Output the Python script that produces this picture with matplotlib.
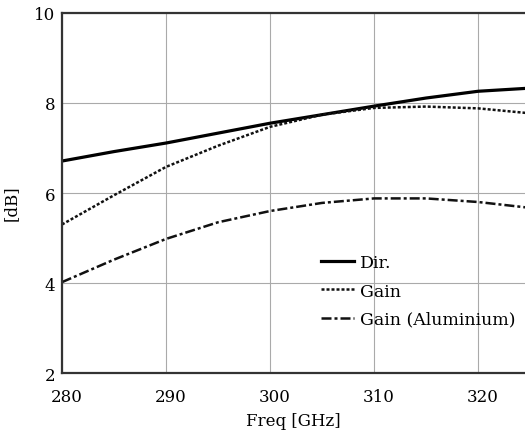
import matplotlib.pyplot as plt
import matplotlib.transforms as mtransforms

# Frequency points [GHz] and curves [dB]
freq = [280, 285, 290, 295, 300, 305, 310, 315, 320, 325]
directivity = [6.71, 6.92, 7.11, 7.33, 7.55, 7.74, 7.93, 8.11, 8.26, 8.33]
gain = [5.30, 5.95, 6.58, 7.05, 7.47, 7.74, 7.89, 7.92, 7.88, 7.77]
gain_alu = [4.02, 4.52, 4.98, 5.35, 5.60, 5.78, 5.88, 5.88, 5.80, 5.67]

x_ticks = [280, 290, 300, 310, 320]
y_ticks = [2, 4, 6, 8, 10]

plt.rcParams['font.family'] = ['DejaVu Serif']

fig = plt.figure(figsize=(5.25, 4.35), dpi=100)
ax = fig.add_axes([0.118, 0.140, 0.882, 0.828])

ax.plot(freq, directivity, color='black', lw=2.3, label='Dir.')
ax.plot(freq, gain, color='#111111', lw=1.8, dashes=(1.2, 0.8), label='Gain')
ax.plot(freq, gain_alu, color='#111111', lw=1.8, dashes=(4, 1.2, 1.2, 1.2),
        label='Gain (Aluminium)')

ax.set_xlim(280, 324.5)
ax.set_ylim(2, 10)
ax.set_xticks(x_ticks)
ax.set_yticks(y_ticks)
ax.grid(True, color='#aaaaaa', lw=0.8)
ax.tick_params(length=0, labelsize=12)
ax.tick_params(axis='x', pad=11)
ax.tick_params(axis='y', pad=5)

# x tick labels sit a little to the right of their grid lines
offset = mtransforms.ScaledTranslation(5 / 100, 0, fig.dpi_scale_trans)
for lbl in ax.get_xticklabels():
    lbl.set_transform(lbl.get_transform() + offset)

for side in ['left', 'bottom', 'top']:
    ax.spines[side].set_color('#333333')
    ax.spines[side].set_linewidth(1.6)
ax.spines['right'].set_visible(False)

ax.set_xlabel('Freq [GHz]', fontsize=12, labelpad=5)
ax.set_ylabel('[dB]', fontsize=12)
ax.yaxis.set_label_coords(-0.092, 0.475)

ax.legend(loc='upper left', bbox_to_anchor=(0.56, 0.33), frameon=False,
          fontsize=12.5, handlelength=1.9, handletextpad=0.35,
          labelspacing=0.65, borderaxespad=0, borderpad=0)

fig.savefig('out.png', dpi=100)
